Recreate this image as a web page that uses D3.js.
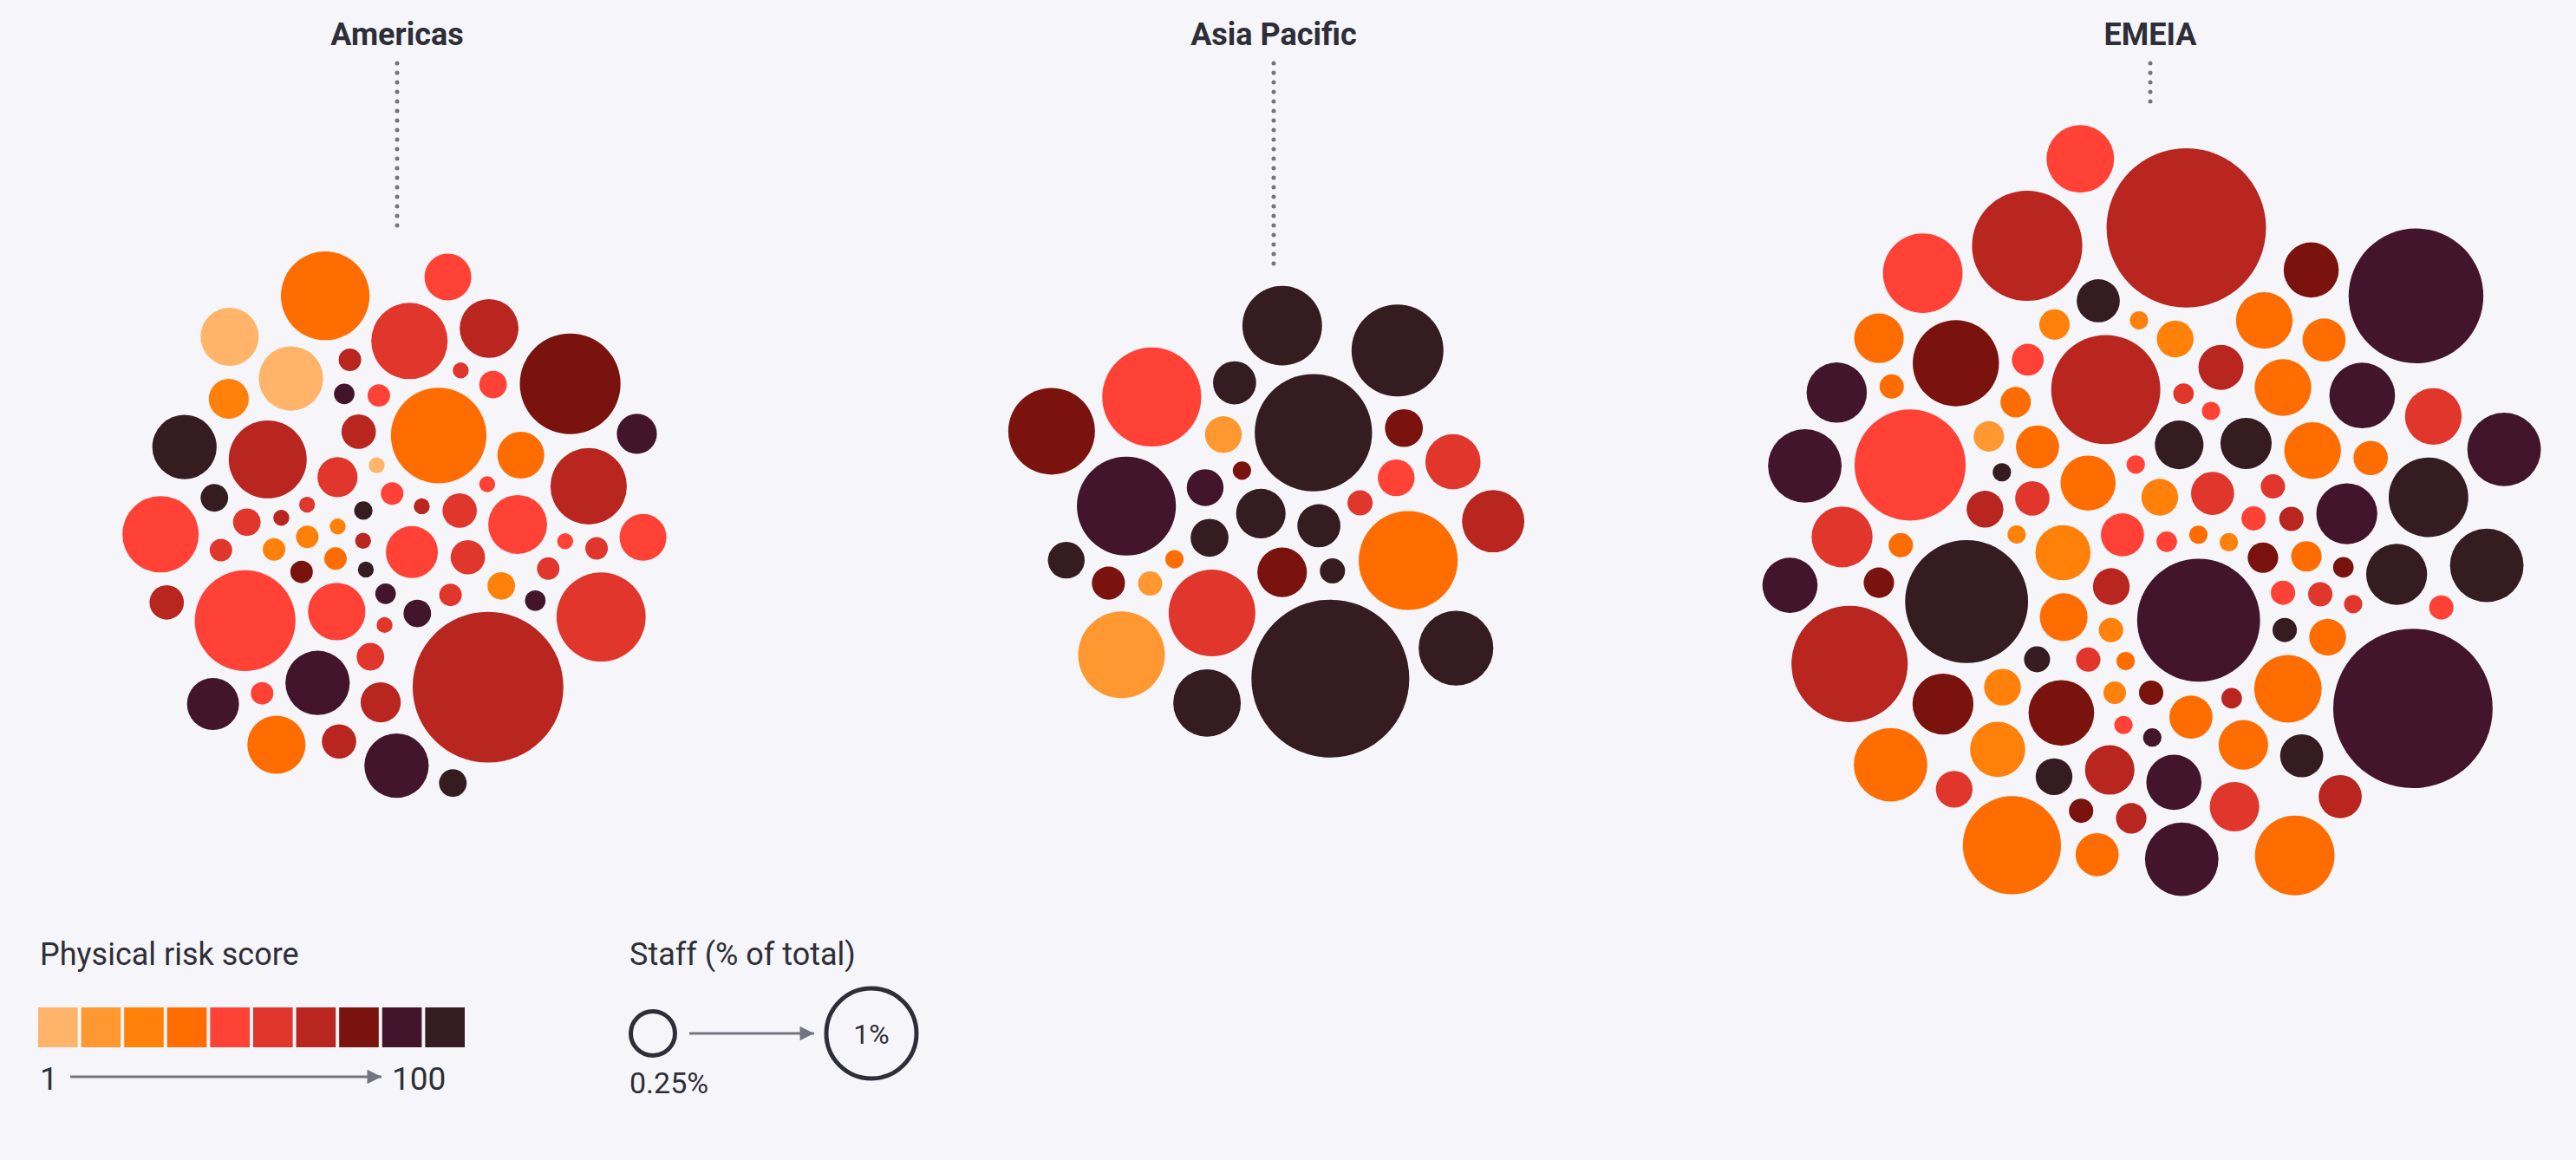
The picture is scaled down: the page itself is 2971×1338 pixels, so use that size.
<!DOCTYPE html>
<html>
<head>
<meta charset="utf-8">
<script src="https://cdn.jsdelivr.net/npm/d3@7"></script>
<style>
  html, body { margin: 0; padding: 0; background: #F6F6FA; }
  svg { display: block; }
  text { font-family: Roboto, "Noto Sans", sans-serif; fill: #2E2E38; }
</style>
</head>
<body>
<div id="vis"></div>
<script>
const WIDTH = 2971;
const HEIGHT = 1338;
const CLUSTER_Y = 607;
const PAD = 7.5;

// ############
// data
// ############
const regions = ["Americas", "Asia Pacific", "EMEIA"];

const riskColors = ["#FFB46A", "#FF9831", "#FF810A", "#FF6D00", "#FF4136",
  "#E0362C", "#B9251F", "#7A130D", "#42152D", "#351C21"];

// staff (% of total) and physical risk score per country
const americasStaff = [0.32, 0.41, 0.39, 0.41, 0.49, 0.49, 0.72, 0.03, 0.03, 1.08,
  0.03, 0.05, 0.06, 0.03, 0.06, 0.69, 0.03, 0.03, 0.03, 0.09,
  0.09, 0.06, 0.03, 0.93, 0.04, 0.06, 0.26, 0.06, 0.14, 0.14,
  0.14, 0.14, 0.06, 0.05, 0.69, 0.09, 0.06, 0.03, 0.06, 0.09,
  0.19, 0.19, 0.05, 1.20, 0.26, 2.69, 0.06, 0.09, 0.14, 0.19,
  0.03, 0.69, 1.20, 0.09, 0.09, 0.06, 0.06, 0.03, 0.06, 0.49,
  0.26, 0.40, 0.40, 0.94, 0.32, 0.19, 0.49];
const americasRisk = [45, 45, 45, 65, 5, 85, 65, 95, 65, 35,
  65, 85, 55, 55, 25, 55, 65, 5, 25, 85,
  55, 45, 55, 35, 95, 45, 35, 45, 65, 55,
  65, 55, 75, 85, 65, 55, 25, 45, 55, 45,
  65, 25, 85, 45, 45, 65, 65, 25, 65, 55,
  45, 45, 75, 95, 95, 55, 35, 55, 55, 95,
  45, 35, 5, 55, 85, 85, 85];

const asiaStaff = [1.63, 1.16, 0.29, 0.29, 0.07, 1.16, 0.89, 0.16, 0.17, 0.04,
  0.75, 2.95, 0.17, 0.16, 0.89, 0.22, 0.66, 0.13, 1.00, 0.22,
  0.04, 0.075, 0.16, 0.16, 0.075, 0.89, 0.36, 0.54, 1.16, 0.46];
const asiaRisk = [95, 85, 95, 75, 15, 35, 55, 85, 75, 35,
  95, 95, 95, 45, 15, 95, 95, 75, 95, 95,
  75, 55, 95, 15, 95, 75, 55, 95, 45, 65];

const emeiaStaff = [0.22, 1.79, 0.36, 0.22, 0.36, 0.51, 1.79, 0.44, 0.51, 0.04,
  0.04, 0.07, 0.05, 0.07, 0.11, 1.41, 0.75, 0.06, 0.11, 0.16,
  0.28, 0.44, 0.05, 0.07, 0.14, 1.46, 0.22, 1.14, 0.11, 3.01,
  0.22, 0.43, 0.29, 0.64, 0.54, 1.60, 0.04, 0.04, 0.07, 0.07,
  0.04, 0.88, 0.64, 0.16, 0.12, 0.07, 0.04, 0.24, 0.16, 0.16,
  0.11, 0.07, 3.01, 0.22, 0.14, 0.07, 0.36, 0.16, 0.07, 0.22,
  0.44, 0.04, 1.44, 0.64, 0.22, 0.31, 0.07, 0.05, 0.38, 0.64,
  0.54, 0.22, 0.36, 2.15, 0.36, 0.22, 0.16, 0.08, 0.04, 0.16,
  0.16, 0.11, 0.07, 0.04, 0.05, 0.11, 0.07, 0.04, 0.75, 0.38,
  0.27, 0.11, 0.07, 0.04, 0.75, 0.64, 0.38, 0.29, 0.44, 0.38,
  0.29, 0.29, 0.36];
const emeiaRisk = [35, 95, 35, 35, 25, 85, 85, 85, 75, 85,
  25, 75, 65, 75, 65, 65, 35, 25, 35, 95,
  95, 75, 45, 65, 35, 45, 55, 35, 15, 85,
  35, 85, 65, 85, 35, 65, 45, 95, 35, 55,
  35, 75, 85, 65, 45, 55, 45, 65, 55, 25,
  75, 35, 65, 65, 55, 45, 25, 25, 45, 35,
  95, 45, 65, 95, 45, 95, 55, 55, 35, 35,
  45, 95, 85, 85, 85, 95, 65, 95, 35, 35,
  25, 35, 25, 25, 75, 75, 95, 55, 45, 35,
  35, 25, 45, 25, 95, 85, 35, 35, 55, 55,
  55, 35, 75];

const staffByRegion = [americasStaff, asiaStaff, emeiaStaff];
const riskByRegion = [americasRisk, asiaRisk, emeiaRisk];

const legendStaff = [0.25, 1];
const legendRiskEnds = ["1", "100"];

// ############
// scales
// ############
const colorScale = d3.scaleQuantize().domain([0, 100]).range(riskColors);
const sizeScale = d3.scaleSqrt().domain([0, 1]).range([0, 53]);
const regionX = d3.scalePoint().domain(regions).range([458, 2480]);

// ############
// draw()
// ############
const svg = d3.select("#vis")
  .append("svg")
  .attr("width", WIDTH)
  .attr("height", HEIGHT);

svg.append("rect")
  .attr("width", WIDTH)
  .attr("height", HEIGHT)
  .attr("fill", "#F6F6FA");

const defs = svg.append("defs");
defs.append("marker")
  .attr("id", "arrow")
  .attr("viewBox", "0 0 10 10")
  .attr("refX", 10)
  .attr("refY", 5)
  .attr("markerWidth", 7)
  .attr("markerHeight", 5.5)
  .attr("markerUnits", "strokeWidth")
  .attr("orient", "auto")
  .append("path")
  .attr("d", "M0,0 L10,5 L0,10 Z")
  .attr("fill", "#747480");

regions.forEach((region, ri) => {
  const cx = regionX(region);

  const nodes = staffByRegion[ri].map((s, i) => ({
    staff: s,
    risk: riskByRegion[ri][i],
    r: sizeScale(s)
  }));

  const sim = d3.forceSimulation(nodes)
    .force("x", d3.forceX(cx).strength(0.05))
    .force("y", d3.forceY(CLUSTER_Y).strength(0.05))
    .force("collide", d3.forceCollide((d) => d.r + PAD).iterations(4))
    .stop();

  // start the phyllotaxis seed around the cluster centre
  nodes.forEach((d) => { d.x += cx; d.y += CLUSTER_Y; });
  for (let i = 0; i < 400; i++) sim.tick();

  const g = svg.append("g").attr("class", "region");

  g.selectAll("circle")
    .data(nodes)
    .join("circle")
    .attr("cx", (d) => d.x)
    .attr("cy", (d) => d.y)
    .attr("r", (d) => d.r)
    .attr("fill", (d) => colorScale(d.risk));

  const top = d3.min(nodes, (d) => d.y - d.r);

  // titulo da regiao
  g.append("text")
    .attr("x", cx)
    .attr("y", 52)
    .attr("text-anchor", "middle")
    .attr("font-size", 36)
    .attr("font-weight", 700)
    .text(region);

  g.append("line")
    .attr("x1", cx)
    .attr("x2", cx)
    .attr("y1", 73)
    .attr("y2", top - 20)
    .attr("stroke", "#747480")
    .attr("stroke-width", 5)
    .attr("stroke-linecap", "round")
    .attr("stroke-dasharray", "0 11");
});

// ############
// legend: physical risk score
// ############
const riskLegend = svg.append("g").attr("class", "legend-risk");

riskLegend.append("text")
  .attr("x", 46)
  .attr("y", 1113)
  .attr("font-size", 36)
  .text("Physical risk score");

const band = d3.scaleBand()
  .domain(riskColors)
  .range([44, 536])
  .paddingInner(0.08);

riskLegend.selectAll("rect")
  .data(riskColors)
  .join("rect")
  .attr("x", (d) => band(d))
  .attr("y", 1162)
  .attr("width", band.bandwidth())
  .attr("height", 46)
  .attr("fill", (d) => d);

riskLegend.append("text")
  .attr("x", 46)
  .attr("y", 1257)
  .attr("font-size", 37)
  .text(legendRiskEnds[0]);

riskLegend.append("text")
  .attr("x", 452)
  .attr("y", 1257)
  .attr("font-size", 37)
  .text(legendRiskEnds[1]);

riskLegend.append("line")
  .attr("x1", 81)
  .attr("x2", 440)
  .attr("y1", 1242)
  .attr("y2", 1242)
  .attr("stroke", "#747480")
  .attr("stroke-width", 3)
  .attr("marker-end", "url(#arrow)");

// ############
// legend: staff
// ############
const staffLegend = svg.append("g").attr("class", "legend-staff");

staffLegend.append("text")
  .attr("x", 726)
  .attr("y", 1113)
  .attr("font-size", 36)
  .text("Staff (% of total)");

const legendCx = [753, 1005];

staffLegend.selectAll("circle")
  .data(legendStaff)
  .join("circle")
  .attr("cx", (d, i) => legendCx[i])
  .attr("cy", 1192)
  .attr("r", (d) => sizeScale(d) - 1)
  .attr("fill", "none")
  .attr("stroke", "#2E2E38")
  .attr("stroke-width", 5);

staffLegend.append("line")
  .attr("x1", 795)
  .attr("x2", 939)
  .attr("y1", 1192)
  .attr("y2", 1192)
  .attr("stroke", "#747480")
  .attr("stroke-width", 3)
  .attr("marker-end", "url(#arrow)");

staffLegend.append("text")
  .attr("x", 1005)
  .attr("y", 1204)
  .attr("text-anchor", "middle")
  .attr("font-size", 32)
  .text(legendStaff[1] + "%");

staffLegend.append("text")
  .attr("x", 726)
  .attr("y", 1261)
  .attr("font-size", 34)
  .text(legendStaff[0] + "%");
</script>
</body>
</html>
